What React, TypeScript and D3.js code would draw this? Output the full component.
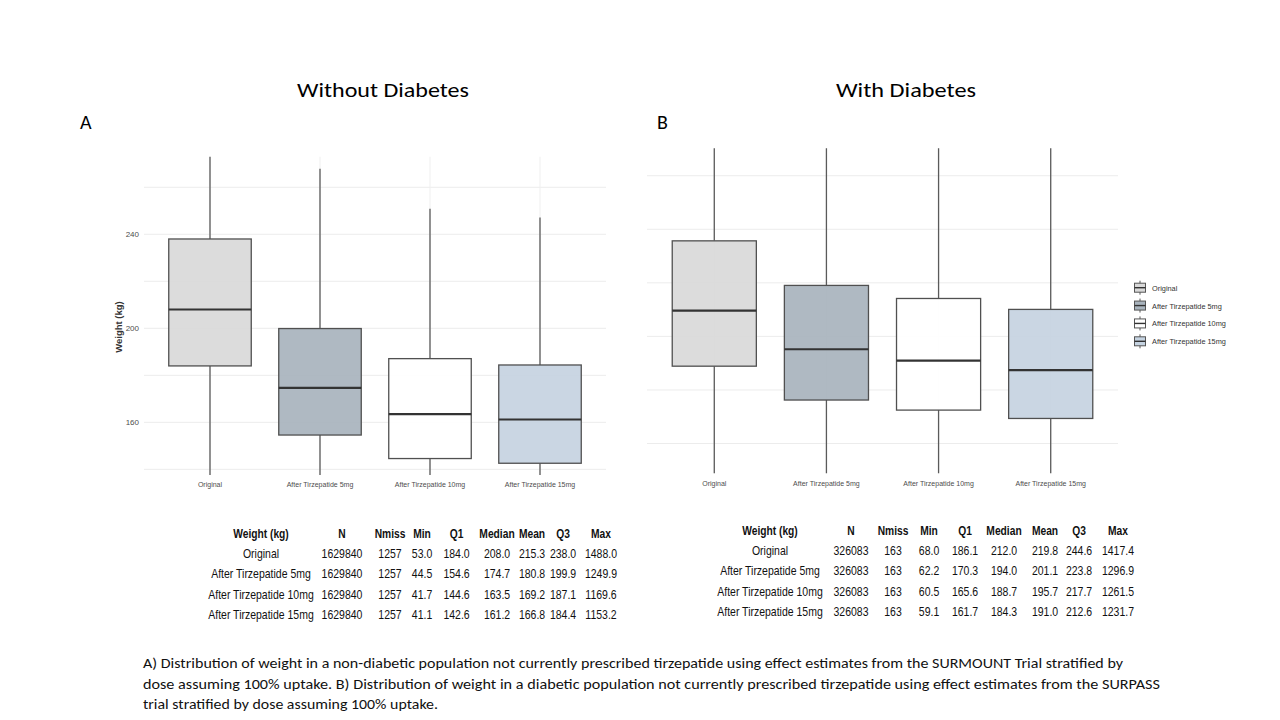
import * as d3 from "d3";

// categories shared by both panels
const categories = ["Original", "After Tirzepatide 5mg", "After Tirzepatide 10mg", "After Tirzepatide 15mg"];
const boxFills = ["#d9d9d9", "#a8b3bd", "#ffffff", "#c5d3e1"];

// A) without diabetes (SURMOUNT)
const noDiabN = [1629840, 1629840, 1629840, 1629840];
const noDiabNmiss = [1257, 1257, 1257, 1257];
const noDiabMin = [53.0, 44.5, 41.7, 41.1];
const noDiabQ1 = [184.0, 154.6, 144.6, 142.6];
const noDiabMedian = [208.0, 174.7, 163.5, 161.2];
const noDiabMean = [215.3, 180.8, 169.2, 166.8];
const noDiabQ3 = [238.0, 199.9, 187.1, 184.4];
const noDiabMax = [1488.0, 1249.9, 1169.6, 1153.2];

// B) with diabetes (SURPASS)
const diabN = [326083, 326083, 326083, 326083];
const diabNmiss = [163, 163, 163, 163];
const diabMin = [68.0, 62.2, 60.5, 59.1];
const diabQ1 = [186.1, 170.3, 165.6, 161.7];
const diabMedian = [212.0, 194.0, 188.7, 184.3];
const diabMean = [219.8, 201.1, 195.7, 191.0];
const diabQ3 = [244.6, 223.8, 217.7, 212.6];
const diabMax = [1417.4, 1296.9, 1261.5, 1231.7];

const tableHeader = ["Weight (kg)", "N", "Nmiss", "Min", "Q1", "Median", "Mean", "Q3", "Max"];

// gridlines / tick labels
const leftGrid = [140, 160, 180, 200, 220, 240, 260];
const leftTicks = [160, 200, 240];
const rightGrid = [150, 175, 200, 225, 250, 275];

const captionLines = [
  "A) Distribution of weight in a non-diabetic population  not currently prescribed tirzepatide using effect estimates from the SURMOUNT Trial stratified by",
  "dose assuming 100% uptake.  B) Distribution of weight in a diabetic population  not currently prescribed tirzepatide using effect estimates from the SURPASS",
  "trial stratified by dose assuming 100% uptake.",
];

const fmt1 = d3.format(".1f");
const sans = "'Liberation Sans', Arial, sans-serif";

type PanelProps = {
  id: string;
  q1: number[];
  median: number[];
  q3: number[];
  min: number[];
  max: number[];
  x0: number;
  x1: number;
  top: number;
  bottom: number;
  domain: [number, number];
  grid: number[];
  ticks: number[];
  labelY: number;
};

function BoxPanel(p: PanelProps) {
  const x = d3.scalePoint<string>().domain(categories).range([p.x0, p.x1]).padding(0.6);
  const y = d3.scaleLinear().domain(p.domain).range([p.bottom, p.top]);
  const bw = x.step() * 0.75;
  return (
    <g>
      <defs>
        <clipPath id={p.id}>
          <rect x={p.x0} y={p.top} width={p.x1 - p.x0} height={p.bottom - p.top} />
        </clipPath>
      </defs>
      {p.grid.map((g) => (
        <line key={g} x1={p.x0} x2={p.x1} y1={y(g)} y2={y(g)} stroke="#ececec" strokeWidth={1} />
      ))}
      {categories.map((c) => (
        <line key={c} x1={x(c)} x2={x(c)} y1={p.top} y2={p.bottom} stroke="#efefef" strokeWidth={1} />
      ))}
      <g clipPath={`url(#${p.id})`}>
        {categories.map((c, i) => {
          const iqr = p.q3[i] - p.q1[i];
          const lo = Math.max(p.min[i], p.q1[i] - 1.5 * iqr);
          const hi = Math.min(p.max[i], p.q3[i] + 1.5 * iqr);
          const cx = x(c) as number;
          return (
            <g key={c}>
              <line x1={cx} x2={cx} y1={y(hi)} y2={y(p.q3[i])} stroke="#5a5a5a" strokeWidth={1.3} />
              <line x1={cx} x2={cx} y1={y(p.q1[i])} y2={y(lo)} stroke="#5a5a5a" strokeWidth={1.3} />
              <rect x={cx - bw / 2} y={y(p.q3[i])} width={bw} height={y(p.q1[i]) - y(p.q3[i])}
                fill={boxFills[i]} fillOpacity={0.92} stroke="#505050" strokeWidth={1.3} />
              <line x1={cx - bw / 2} x2={cx + bw / 2} y1={y(p.median[i])} y2={y(p.median[i])} stroke="#333" strokeWidth={2.2} />
            </g>
          );
        })}
      </g>
      {p.ticks.map((t) => (
        <text key={t} x={p.x0 - 5} y={y(t) + 3} textAnchor="end" fontSize={8} fill="#4d4d4d" fontFamily={sans}>{t}</text>
      ))}
      {categories.map((c) => (
        <text key={c} transform={`translate(${x(c)},${p.labelY}) scale(0.9,1)`} textAnchor="middle" fontSize={7.8} fill="#4d4d4d" fontFamily={sans}>{c}</text>
      ))}
    </g>
  );
}

type TableProps = {
  cx: number[];
  rowY: number[];
  N: number[];
  Nmiss: number[];
  min: number[];
  q1: number[];
  median: number[];
  mean: number[];
  q3: number[];
  max: number[];
};

function StatsTable(t: TableProps) {
  const rows = categories.map((c, i) => [
    c, String(t.N[i]), String(t.Nmiss[i]), fmt1(t.min[i]), fmt1(t.q1[i]),
    fmt1(t.median[i]), fmt1(t.mean[i]), fmt1(t.q3[i]), fmt1(t.max[i]),
  ]);
  return (
    <g fontFamily={sans} fontSize={12.5} fill="#111">
      {tableHeader.map((h, j) => (
        <text key={h} transform={`translate(${t.cx[j]},${t.rowY[0] + 4.5}) scale(0.82,1)`} textAnchor="middle" fontWeight="bold">{h}</text>
      ))}
      {rows.map((r, i) =>
        r.map((v, j) => (
          <text key={`${i}-${j}`} transform={`translate(${t.cx[j]},${t.rowY[i + 1] + 4.5}) scale(0.84,1)`} textAnchor="middle">{v}</text>
        ))
      )}
    </g>
  );
}

export default function App() {
  const titleFont = "Carlito, Calibri, 'Open Sans', sans-serif";
  const legendY = d3.scalePoint<string>().domain(categories).range([287.7, 341.3]);
  return (
    <svg width={1280} height={720} style={{ position: "absolute", left: 0, top: 0, background: "#fff" }}>
      <text x={383} y={97} textAnchor="middle" fontSize={20} fontFamily={titleFont} textLength={172} lengthAdjust="spacingAndGlyphs">Without Diabetes</text>
      <text x={906} y={97} textAnchor="middle" fontSize={20} fontFamily={titleFont} textLength={140} lengthAdjust="spacingAndGlyphs">With Diabetes</text>
      <text x={80} y={129} fontSize={20} fontFamily={titleFont}>A</text>
      <text x={657} y={129} fontSize={20} fontFamily={titleFont}>B</text>

      <BoxPanel id="clipA" q1={noDiabQ1} median={noDiabMedian} q3={noDiabQ3} min={noDiabMin} max={noDiabMax}
        x0={144} x1={606} top={156.7} bottom={475} domain={[137.6, 273.0]} grid={leftGrid} ticks={leftTicks} labelY={487} />
      <text transform="translate(122,327) rotate(-90)" textAnchor="middle" fontSize={9.5} fontWeight="bold" fill="#333"
        fontFamily={sans}>Weight (kg)</text>

      <BoxPanel id="clipB" q1={diabQ1} median={diabMedian} q3={diabQ3} min={diabMin} max={diabMax}
        x0={647} x1={1118} top={148.3} bottom={473.3} domain={[136.1, 287.8]} grid={rightGrid} ticks={[]} labelY={486} />

      {categories.map((c, i) => {
        const ly = legendY(c) as number;
        return (
          <g key={c}>
            <line x1={1140} x2={1140} y1={ly - 7} y2={ly + 7} stroke="#555" strokeWidth={1} />
            <rect x={1134.5} y={ly - 4.5} width={11} height={9} fill={boxFills[i]} stroke="#555" strokeWidth={1} />
            <line x1={1134.5} x2={1145.5} y1={ly} y2={ly} stroke="#333" strokeWidth={1.4} />
            <text transform={`translate(1152,${ly + 3}) scale(0.92,1)`} fontSize={8} fill="#333" fontFamily={sans}>{c}</text>
          </g>
        );
      })}

      <StatsTable cx={[261, 342, 390, 422, 456.5, 497, 532, 563, 601]} rowY={[533.5, 553, 573.5, 594, 614.5]}
        N={noDiabN} Nmiss={noDiabNmiss} min={noDiabMin} q1={noDiabQ1} median={noDiabMedian} mean={noDiabMean} q3={noDiabQ3} max={noDiabMax} />
      <StatsTable cx={[770, 851, 893, 929, 965, 1004, 1045, 1079, 1118]} rowY={[530, 550, 570.5, 591, 611.5]}
        N={diabN} Nmiss={diabNmiss} min={diabMin} q1={diabQ1} median={diabMedian} mean={diabMean} q3={diabQ3} max={diabMax} />

      {captionLines.map((l, i) => (
        <text key={i} x={143} y={668 + i * 20.5} fontSize={14.5} fontFamily={titleFont}
          textLength={[980, 1017, 295][i]} lengthAdjust="spacingAndGlyphs" fill="#111">{l}</text>
      ))}
    </svg>
  );
}
